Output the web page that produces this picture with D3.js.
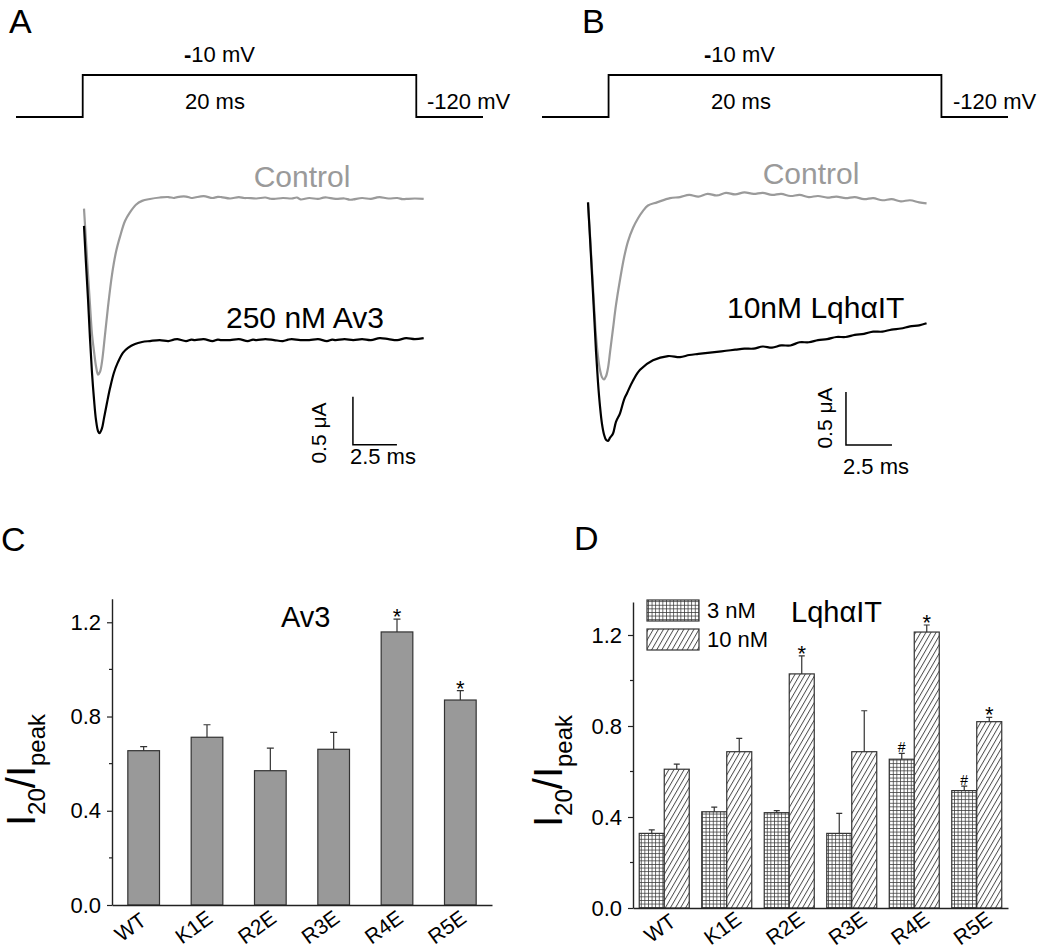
<!DOCTYPE html>
<html><head><meta charset="utf-8">
<script src="https://cdn.jsdelivr.net/npm/d3@7"></script>
<style>body{margin:0;background:#fff} svg{display:block}</style>
</head><body>
<svg id="fig" width="1050" height="951"></svg>
<script>
// ---------------- DATA ----------------
// Voltage protocol (ms, mV)
const protocolTime = [-4, 0, 0, 20, 20, 24];
const protocolMv = [-120, -120, -10, -10, -120, -120];

// Current traces [time ms, current uA]
const avControl = [[0.00,-0.11],[0.11,-0.44],[0.23,-0.80],[0.34,-1.11],[0.45,-1.41],[0.57,-1.60],[0.68,-1.75],[0.80,-1.84],[0.91,-1.81],[1.02,-1.71],[1.19,-1.43],[1.36,-1.14],[1.59,-0.80],[1.82,-0.56],[2.05,-0.40],[2.33,-0.24],[2.61,-0.15],[2.95,-0.07],[3.30,-0.03],[3.75,-0.01],[4.32,0.005],
 [4.8,0.01],[5.1,0.0],[5.3,0.01],[5.8,0.015],[6.1,0.0],[6.3,0.005],[6.8,0.02],[7.3,0.0],[7.6,0.012],[7.8,0.01],[8.3,-0.005],[8.8,0.01],[9.1,0.0],[9.3,0.0],[9.8,-0.005],[10.3,0.005],[10.6,-0.008],[10.8,-0.01],[11.3,0.0],[11.8,-0.005],[12.1,0.005],[12.3,-0.015],[12.8,0.0],[13.3,-0.01],[13.6,0.004],[13.8,0.005],[14.3,-0.01],[14.8,-0.005],[15.1,-0.018],[15.3,-0.015],[15.8,0.0],[16.3,-0.01],[16.6,0.004],[16.8,0.01],[17.3,-0.005],[17.8,0.0],[18.1,-0.012],[18.3,-0.01],[18.8,-0.005],[19.3,-0.01]];
const avToxin = [[0.00,-0.29],[0.11,-0.67],[0.23,-1.06],[0.34,-1.46],[0.45,-1.81],[0.57,-2.10],[0.68,-2.31],[0.80,-2.43],[0.88,-2.45],[1.02,-2.40],[1.14,-2.29],[1.31,-2.13],[1.48,-1.98],[1.70,-1.82],[1.93,-1.71],[2.22,-1.61],[2.50,-1.56],[2.90,-1.52],[3.30,-1.50],[3.75,-1.49],
 [4.3,-1.48],[4.8,-1.49],[5.1,-1.475],[5.3,-1.47],[5.8,-1.49],[6.1,-1.475],[6.3,-1.48],[6.8,-1.47],[7.3,-1.49],[7.6,-1.475],[7.8,-1.48],[8.3,-1.48],[8.8,-1.47],[9.3,-1.49],[9.6,-1.475],[9.8,-1.48],[10.3,-1.47],[10.8,-1.48],[11.3,-1.49],[11.6,-1.475],[11.8,-1.47],[12.3,-1.48],[12.8,-1.48],[13.3,-1.47],[13.8,-1.49],[14.1,-1.475],[14.3,-1.48],[14.8,-1.47],[15.3,-1.48],[15.8,-1.47],[16.3,-1.48],[16.8,-1.46],[17.3,-1.47],[17.8,-1.48],[18.3,-1.46],[18.8,-1.47],[19.3,-1.46]];
const lqhControl = [[0.00,-0.06],[0.11,-0.37],[0.22,-0.70],[0.33,-1.03],[0.43,-1.31],[0.54,-1.51],[0.65,-1.64],[0.76,-1.71],[0.87,-1.73],[0.98,-1.70],[1.09,-1.62],[1.20,-1.47],[1.36,-1.25],[1.52,-1.03],[1.74,-0.79],[1.96,-0.58],[2.17,-0.43],[2.45,-0.30],[2.72,-0.21],[2.99,-0.14],[3.26,-0.09],[3.75,-0.06],[4.46,-0.02],
 [5.0,-0.01],[5.5,0.01],[6.0,-0.005],[6.5,0.02],[7.0,0.005],[7.5,0.03],[8.0,0.015],[8.5,0.035],[9.0,0.02],[9.5,0.03],[10.0,0.01],[10.5,0.02],[11.0,0.0],[11.5,0.01],[12.0,-0.01],[12.5,0.0],[13.0,-0.015],[13.5,-0.005],[14.0,-0.02],[14.5,-0.01],[15.0,-0.03],[15.5,-0.02],[16.0,-0.04],[16.5,-0.03],[17.0,-0.05],[17.5,-0.04],[18.0,-0.06],[18.4,-0.07]];
const lqhToxin = [[0.00,-0.06],[0.11,-0.40],[0.22,-0.75],[0.33,-1.11],[0.43,-1.45],[0.54,-1.75],[0.65,-1.98],[0.76,-2.15],[0.87,-2.25],[0.98,-2.30],[1.09,-2.31],[1.20,-2.28],[1.36,-2.24],[1.52,-2.13],[1.74,-2.05],[1.96,-1.92],[2.12,-1.86],[2.45,-1.74],[2.83,-1.64],[3.53,-1.55],[4.35,-1.51],
 [5.0,-1.52],[5.5,-1.50],[6.0,-1.49],[6.5,-1.48],[7.0,-1.47],[7.5,-1.46],[8.0,-1.45],[8.5,-1.44],[9.0,-1.44],[9.5,-1.42],[10.0,-1.43],[10.5,-1.41],[11.0,-1.41],[11.5,-1.38],[12.0,-1.38],[12.5,-1.36],[13.0,-1.35],[13.5,-1.33],[14.0,-1.33],[14.5,-1.31],[15.0,-1.30],[15.5,-1.28],[16.0,-1.28],[16.5,-1.26],[17.0,-1.25],[17.5,-1.23],[18.0,-1.22],[18.4,-1.20]];

// Bar charts
const mutants = ["WT","K1E","R2E","R3E","R4E","R5E"];
const av3Mean = [0.655, 0.712, 0.570, 0.661, 1.159, 0.870];
const av3Err  = [0.017, 0.053, 0.096, 0.072, 0.054, 0.040];
const av3Sig  = ["", "", "", "", "*", "*"];
const doses = ["3 nM", "10 nM"];
const lqh3Mean  = [0.328, 0.423, 0.419, 0.328, 0.654, 0.516];
const lqh3Err   = [0.015, 0.020, 0.009, 0.088, 0.026, 0.020];
const lqh3Sig   = ["", "", "", "", "#", "#"];
const lqh10Mean = [0.610, 0.687, 1.029, 0.687, 1.213, 0.819];
const lqh10Err  = [0.022, 0.059, 0.079, 0.180, 0.031, 0.019];
const lqh10Sig  = ["", "", "*", "", "*", "*"];
const yTicks = [0, 0.4, 0.8, 1.2];
const yMinorTicks = [0.2, 0.6, 1.0];

// ---------------- DRAW ----------------
const ARIAL = "'Liberation Sans', Arial, Helvetica, sans-serif";
const svg = d3.select("#fig").attr("font-family", ARIAL);
const defs = svg.append("defs");
defs.append("pattern").attr("id","grid").attr("patternUnits","userSpaceOnUse")
  .attr("width",3.6).attr("height",3.6)
  .call(p => {
    p.append("rect").attr("width",3.6).attr("height",3.6).attr("fill","#fff");
    p.append("path").attr("d","M0,0.4H3.6M0.4,0V3.6").attr("stroke","#3a3a3a").attr("stroke-width",0.8);
  });
defs.append("pattern").attr("id","hatch").attr("patternUnits","userSpaceOnUse")
  .attr("width",4.4).attr("height",4.4).attr("patternTransform","rotate(30)")
  .call(p => {
    p.append("rect").attr("width",4.4).attr("height",4.4).attr("fill","#fff");
    p.append("line").attr("x1",0.5).attr("x2",0.5).attr("y1",0).attr("y2",4.4).attr("stroke","#3a3a3a").attr("stroke-width",0.85);
  });

// Panel letters
const letter = (t, x, y) => svg.append("text").attr("x",x).attr("y",y)
  .attr("font-size",34).attr("fill","#000").text(t);
letter("A", 9, 33); letter("B", 582, 33); letter("C", 1, 551); letter("D", 574, 550);

// Voltage protocols
function protocol(x0, x1, labels) {
  const x = d3.scaleLinear().domain([-4, 24]).range([x0, x1]);
  const y = d3.scaleLinear().domain([-120, -10]).range([117, 75]);
  const pts = protocolTime.map((t, i) => [t, protocolMv[i]]);
  svg.append("path").attr("d", d3.line().x(d => x(d[0])).y(d => y(d[1]))(pts))
    .attr("fill","none").attr("stroke","#000").attr("stroke-width",1.8);
  const t1 = svg.append("text").attr("x", labels[0]).attr("y", 62).attr("font-size", 22);
  t1.append("tspan").attr("font-weight","bold").text("-");
  t1.append("tspan").text("10 mV");
  svg.append("text").attr("x", labels[1]).attr("y", 109).attr("font-size", 22).text("20 ms");
  svg.append("text").attr("x", labels[2]).attr("y", 109).attr("font-size", 22).text("-120 mV");
}
protocol(16, 483, [184, 185, 427]);
protocol(542, 1008, [704, 711, 953]);

// Current traces
function tracePanel(cfg) {
  const x = d3.scaleLinear().domain([0, 1]).range([cfg.x0, cfg.x0 + cfg.pxPerMs]);
  const y = d3.scaleLinear().domain([0, -1]).range([cfg.y0, cfg.y0 + cfg.pxPerUa]);
  const line = d3.line().x(d => x(d[0])).y(d => y(d[1])).curve(d3.curveCatmullRom);
  svg.append("path").attr("d", line(cfg.control)).attr("fill","none").attr("stroke","#9a9a9a").attr("stroke-width",2.2);
  svg.append("path").attr("d", line(cfg.toxin)).attr("fill","none").attr("stroke","#000").attr("stroke-width",2.2);
  // scale bar: 2.5 ms, 0.5 uA
  const [bt, bi] = cfg.bar;
  svg.append("path").attr("d", `M${x(bt)},${y(bi + 0.5)}V${y(bi)}H${x(bt + 2.5)}`)
    .attr("fill","none").attr("stroke","#000").attr("stroke-width",1.5);
  svg.append("text").attr("x", cfg.ctrlLabel[0]).attr("y", cfg.ctrlLabel[1]).attr("font-size",30)
    .attr("fill","#9a9a9a").attr("text-anchor","middle").text("Control");
  svg.append("text").attr("x", cfg.toxLabel[0]).attr("y", cfg.toxLabel[1]).attr("font-size",30)
    .attr("fill","#000").text(cfg.toxText);
  svg.append("text").attr("transform", `translate(${cfg.uaLabel[0]},${cfg.uaLabel[1]}) rotate(-90)`)
    .attr("font-size",21).attr("text-anchor","middle").text("0.5 μA");
  svg.append("text").attr("x", x(bt) - 3).attr("y", cfg.msY).attr("font-size",22).text("2.5 ms");
}
tracePanel({x0:84, pxPerMs:17.6, y0:198, pxPerUa:96, control:avControl, toxin:avToxin,
  bar:[15.28, -2.57], ctrlLabel:[302, 187], toxLabel:[226, 328], toxText:"250 nM Av3",
  uaLabel:[326, 433], msY:464});
tracePanel({x0:588, pxPerMs:18.4, y0:196, pxPerUa:106, control:lqhControl, toxin:lqhToxin,
  bar:[14.02, -2.35], ctrlLabel:[811, 184], toxLabel:[727, 318], toxText:"10nM LqhαIT",
  uaLabel:[832, 418], msY:474});

// Bar chart helpers
function yAxisDraw(y, xPos) {
  const g = svg.append("g").attr("transform", `translate(${xPos},0)`)
    .call(d3.axisLeft(y).tickValues(yTicks).tickFormat(d3.format(".1f")).tickSize(5).tickSizeOuter(0).tickPadding(6));
  g.attr("font-size", 22).attr("font-family", ARIAL).attr("color", "#222");
  g.selectAll("text").attr("fill", "#000");
  g.select(".domain").attr("stroke-width", 1.4);
  g.selectAll(".tick line").attr("stroke-width", 1.2);
  g.selectAll(".minor").data(yMinorTicks).join("line").attr("class","minor")
    .attr("x1",-3).attr("x2",0).attr("y1",d => y(d)).attr("y2",d => y(d))
    .attr("stroke","#222").attr("stroke-width",1.2);
}
function xAxisDraw(x, yPos, dx, dy) {
  const g = svg.append("g").attr("transform", `translate(0,${yPos})`)
    .call(d3.axisBottom(x).tickSize(0).tickSizeOuter(0).tickFormat(() => ""));
  g.attr("color", "#222");
  g.select(".domain").attr("stroke-width", 1.4);
  svg.selectAll(null).data(mutants).join("text")
    .attr("transform", d => `translate(${x(d) + x.bandwidth()/2 + dx},${yPos + dy}) rotate(-36)`)
    .attr("text-anchor","middle").attr("font-size",21).text(d => d);
}
function yLabel(xPos, yPos) {
  const t = svg.append("text").attr("transform", `translate(${xPos},${yPos}) rotate(-90)`)
    .attr("text-anchor","middle").attr("font-size",40);
  t.append("tspan").text("I");
  t.append("tspan").attr("font-size",24).attr("dy",10).text("20");
  t.append("tspan").attr("dy",-10).text("/");
  t.append("tspan").text("I");
  t.append("tspan").attr("font-size",24).attr("dy",10).text("peak");
}
function errBars(cx, y, means, errs, cap) {
  means.forEach((m, i) => {
    const c = cx(i);
    svg.append("path").attr("d", `M${c},${y(m)}V${y(m + errs[i])}M${c - cap},${y(m + errs[i])}H${c + cap}`)
      .attr("stroke","#333").attr("stroke-width",1.2).attr("fill","none");
  });
}
function sigMarks(cx, y, means, errs, sig) {
  sig.forEach((s, i) => {
    if (!s) return;
    const top = y(means[i] + errs[i]);
    if (s === "*") svg.append("text").attr("x", cx(i)).attr("y", top + 5).attr("text-anchor","middle").attr("font-size",22).text("*");
    else svg.append("text").attr("x", cx(i)).attr("y", top - 1).attr("text-anchor","middle").attr("font-size",14).text("#");
  });
}

// Panel C
const xC = d3.scaleBand().domain(mutants).range([112, 492]).paddingInner(0.5).paddingOuter(0.25);
const yC = d3.scaleLinear().domain([0, 1.3]).range([905, 905 - 1.3 * 235.6]);
svg.selectAll(".barC").data(mutants).join("rect").attr("class","barC")
  .attr("x", d => xC(d)).attr("width", xC.bandwidth())
  .attr("y", (d, i) => yC(av3Mean[i])).attr("height", (d, i) => yC(0) - yC(av3Mean[i]))
  .attr("fill","#999").attr("stroke","#333").attr("stroke-width",1.2);
const cxC = i => xC(mutants[i]) + xC.bandwidth() / 2;
errBars(cxC, yC, av3Mean, av3Err, 3.5);
sigMarks(cxC, yC, av3Mean, av3Err, av3Sig);
yAxisDraw(yC, 112);
xAxisDraw(xC, 905, -9, 28);
yLabel(35, 770);
svg.append("text").attr("x", 281).attr("y", 627).attr("font-size", 29).text("Av3");

// Panel D
const xD = d3.scaleBand().domain(mutants).range([633, 1008]).paddingInner(0.2).paddingOuter(0.1);
const xSub = d3.scaleBand().domain(doses).range([0, xD.bandwidth()]);
const yD = d3.scaleLinear().domain([0, 1.345]).range([908, 908 - 1.345 * 227.5]);
const seriesD = [
  {dose:"3 nM", mean:lqh3Mean, err:lqh3Err, sig:lqh3Sig, fill:"url(#grid)"},
  {dose:"10 nM", mean:lqh10Mean, err:lqh10Err, sig:lqh10Sig, fill:"url(#hatch)"}
];
seriesD.forEach(s => {
  svg.selectAll(null).data(mutants).join("rect")
    .attr("x", d => xD(d) + xSub(s.dose)).attr("width", xSub.bandwidth())
    .attr("y", (d, i) => yD(s.mean[i])).attr("height", (d, i) => yD(0) - yD(s.mean[i]))
    .attr("fill", s.fill).attr("stroke","#333").attr("stroke-width",1.2);
  const cx = i => xD(mutants[i]) + xSub(s.dose) + xSub.bandwidth() / 2;
  errBars(cx, yD, s.mean, s.err, 3);
  sigMarks(cx, yD, s.mean, s.err, s.sig);
});
yAxisDraw(yD, 633);
xAxisDraw(xD, 908, 0, 26);
yLabel(562, 771);
svg.append("text").attr("x", 791).attr("y", 622).attr("font-size", 29).text("LqhαIT");

// Legend D
seriesD.forEach((s, i) => {
  const ly = 600 + i * 29;
  svg.append("rect").attr("x", 647).attr("y", ly).attr("width", 52).attr("height", 21)
    .attr("fill", s.fill).attr("stroke","#333").attr("stroke-width",1.2);
  svg.append("text").attr("x", 707).attr("y", ly + 18).attr("font-size", 22).text(s.dose);
});
</script>
</body></html>
